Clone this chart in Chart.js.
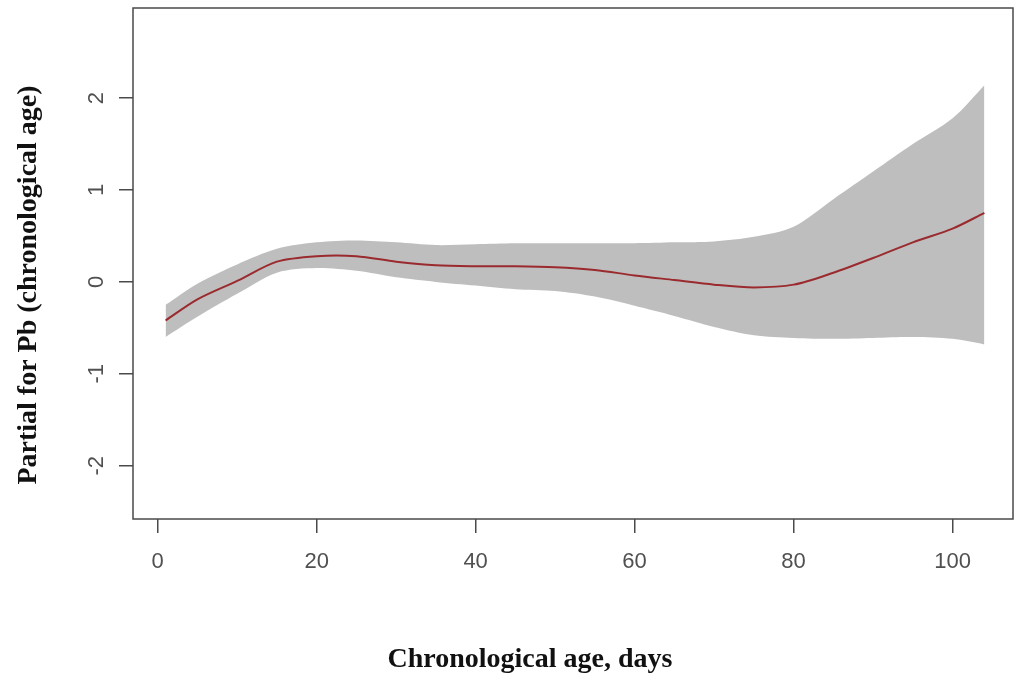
<!DOCTYPE html>
<html>
<head>
<meta charset="utf-8">
<script src="https://cdn.jsdelivr.net/npm/chart.js@4.4.1/dist/chart.umd.min.js"></script>
<style>
  html, body { margin: 0; padding: 0; background: #fff; }
  #wrap { width: 1014px; height: 677px; }
</style>
</head>
<body>
<div id="wrap"><canvas id="partialChart"></canvas></div>
<script>
// chronological age (days) and the fitted partial term with its band
const ages = [1, 5, 10, 15, 20, 25, 30, 35, 40, 45, 50, 55, 60, 65, 70, 75, 80, 85, 90, 95, 100, 104];
const fit = [-0.42, -0.19, 0.01, 0.22, 0.28, 0.28, 0.22, 0.18, 0.17, 0.17, 0.16, 0.13, 0.07, 0.02, -0.03, -0.06, -0.03, 0.10, 0.26, 0.43, 0.58, 0.75];
const upper = [-0.25, -0.02, 0.19, 0.36, 0.43, 0.45, 0.43, 0.40, 0.41, 0.42, 0.42, 0.42, 0.42, 0.43, 0.44, 0.49, 0.60, 0.90, 1.20, 1.50, 1.78, 2.14];
const lower = [-0.60, -0.38, -0.13, 0.10, 0.15, 0.12, 0.05, 0.00, -0.04, -0.08, -0.10, -0.16, -0.26, -0.37, -0.49, -0.58, -0.61, -0.62, -0.61, -0.60, -0.62, -0.68];

const xTicks = [0, 20, 40, 60, 80, 100];
const yTicks = [-2, -1, 0, 1, 2];

const xTitle = 'Chronological age, days';
const yTitle = 'Partial for Pb (chronological age)';

const pts = (ys) => ages.map((a, i) => ({ x: a, y: ys[i] }));

// box round the plot and the two axis titles
const frame = {
  id: 'frame',
  afterDraw(chart) {
    const { ctx, chartArea: a } = chart;
    ctx.save();
    ctx.strokeStyle = '#4a4a4a';
    ctx.lineWidth = 1.5;
    ctx.strokeRect(a.left, a.top, a.right - a.left, a.bottom - a.top);

    ctx.fillStyle = '#111';
    ctx.font = 'bold 28px "Liberation Serif"';
    ctx.textAlign = 'center';
    ctx.textBaseline = 'alphabetic';
    ctx.fillText(xTitle, 530, 667);
    ctx.translate(36, 285);
    ctx.rotate(-Math.PI / 2);
    ctx.fillText(yTitle, 0, 0);
    ctx.restore();
  }
};

const noPad = (s) => {
  s.paddingTop = 0;
  s.paddingBottom = 0;
  s.paddingLeft = 0;
  s.paddingRight = 0;
};

const tickFont = { family: '"Liberation Sans", Arial, sans-serif', size: 22 };

new Chart(document.getElementById('partialChart'), {
  type: 'line',
  data: {
    datasets: [
      {
        label: 'fit',
        data: pts(fit),
        borderColor: '#9b2a2e',
        borderWidth: 2,
        pointRadius: 0,
        tension: 0.3,
        fill: false,
        order: 0
      },
      {
        label: 'upper',
        data: pts(upper),
        borderWidth: 0,
        borderColor: 'rgba(0,0,0,0)',
        backgroundColor: '#bebebe',
        pointRadius: 0,
        tension: 0.3,
        fill: '+1',
        order: 1
      },
      {
        label: 'lower',
        data: pts(lower),
        borderWidth: 0,
        borderColor: 'rgba(0,0,0,0)',
        pointRadius: 0,
        tension: 0.3,
        fill: false,
        order: 2
      }
    ]
  },
  options: {
    responsive: true,
    maintainAspectRatio: false,
    animation: false,
    events: [],
    layout: { padding: { top: 8, right: 1, left: 0, bottom: 0 } },
    plugins: {
      legend: { display: false },
      tooltip: { enabled: false }
    },
    scales: {
      x: {
        type: 'linear',
        min: -3.1,
        max: 107.6,
        afterBuildTicks: (s) => { s.ticks = xTicks.map(v => ({ value: v })); },
        afterFit: (s) => { s.height = 158; noPad(s); },
        border: { display: false },
        grid: { drawOnChartArea: false, drawTicks: true, tickLength: 14, color: '#4a4a4a', lineWidth: 1.5 },
        ticks: { font: tickFont, color: '#505050', padding: 16, maxRotation: 0 }
      },
      y: {
        type: 'linear',
        min: -2.58,
        max: 2.98,
        afterBuildTicks: (s) => { s.ticks = yTicks.map(v => ({ value: v })); },
        afterFit: (s) => { s.width = 133; noPad(s); },
        border: { display: false },
        grid: { drawOnChartArea: false, drawTicks: true, tickLength: 14, color: '#4a4a4a', lineWidth: 1.5 },
        ticks: { font: tickFont, color: '#505050', padding: 12, minRotation: 90, maxRotation: 90, crossAlign: 'center' }
      }
    }
  },
  plugins: [frame]
});
</script>
</body>
</html>
